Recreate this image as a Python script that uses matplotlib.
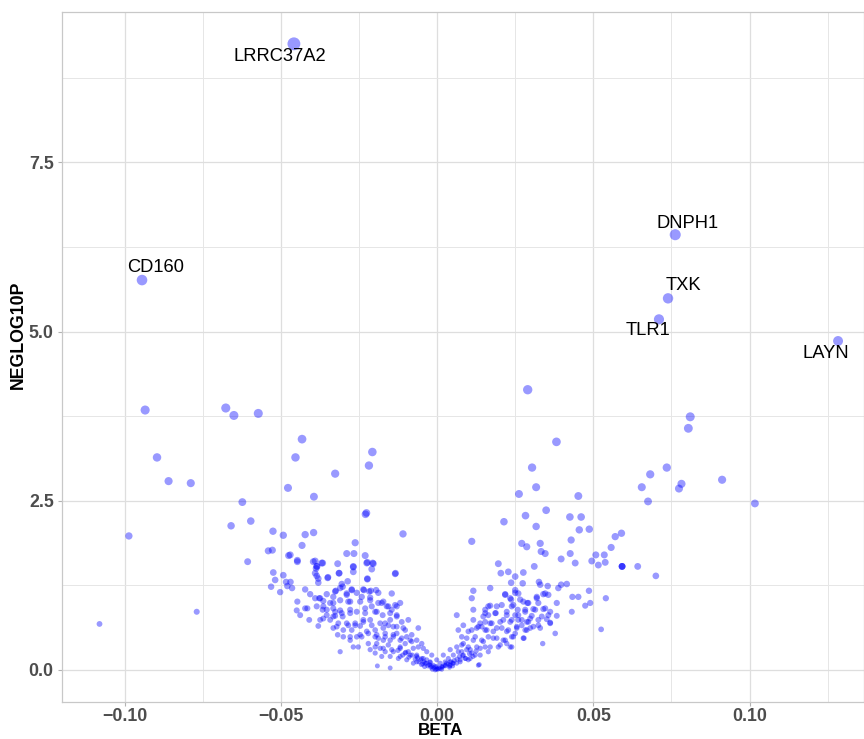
import numpy as np
import matplotlib
matplotlib.use("Agg")
import matplotlib.pyplot as plt
from matplotlib.ticker import MultipleLocator

# labelled genes
genes = ["LRRC37A2", "CD160", "DNPH1", "TXK", "TLR1", "LAYN"]
gene_beta = [-0.0458, -0.0944, 0.0762, 0.0739, 0.0710, 0.1283]
gene_p = [9.25, 5.76, 6.43, 5.49, 5.18, 4.86]
# label offsets (points) as ggrepel placed them
gene_dx = [-10, 10, 9, 11, -8, -9]
gene_dy = [-9, 9, 8, 9, -8, -9]

# sparse points, left arm
left_beta = [-0.0934, -0.0676, -0.0650, -0.0572, -0.0896, -0.0859, -0.0788,
             -0.0623, -0.0596, -0.0659, -0.0986, -0.0606, -0.1080, -0.0769,
             -0.0432, -0.0453, -0.0207, -0.0218, -0.0326, -0.0477, -0.0394,
             -0.0229, -0.0226, -0.0525, -0.0492, -0.0422, -0.0395, -0.0109,
             -0.0540, -0.0527, -0.0475, -0.0384]
left_p = [3.84, 3.87, 3.76, 3.79, 3.14, 2.79, 2.76,
          2.48, 2.20, 2.13, 1.98, 1.60, 0.68, 0.86,
          3.41, 3.14, 3.22, 3.02, 2.90, 2.69, 2.56,
          2.30, 2.32, 2.05, 1.99, 2.00, 2.03, 2.01,
          1.76, 1.77, 1.69, 1.53]

# sparse points, right arm
right_beta = [0.0290, 0.0382, 0.0304, 0.0317, 0.0262, 0.0452, 0.0349, 0.0283,
              0.0425, 0.0461, 0.0214, 0.0317, 0.0487, 0.0590, 0.0592, 0.0592,
              0.0592, 0.0810, 0.0804, 0.0735, 0.0682, 0.0655, 0.0782, 0.0774,
              0.0912, 0.0675, 0.1017, 0.0642, 0.0700]
right_p = [4.14, 3.37, 2.99, 2.70, 2.60, 2.57, 2.36, 2.28,
           2.26, 2.26, 2.19, 2.12, 2.08, 2.02, 1.53, 1.53,
           1.53, 3.74, 3.57, 2.99, 2.89, 2.70, 2.75, 2.68,
           2.81, 2.49, 2.46, 1.53, 1.39]

# dense cloud, negative beta
cloud_neg_beta = [
    -0.0432, -0.0262, -0.0470, -0.0447, -0.0390, -0.0366, -0.0289, -0.0266,
    -0.0230, -0.0223, -0.0206, -0.0318, -0.0268, -0.0387, -0.0209, -0.0268,
    -0.0313, -0.0133, -0.0385, -0.0349, -0.0223, -0.0469, -0.0380, -0.0286,
    -0.0305, -0.0464, -0.0422, -0.0406, -0.0353, -0.0324, -0.0302, -0.0273,
    -0.0257, -0.0234, -0.0217, -0.0195, -0.0188, -0.0145, -0.0377, -0.0364,
    -0.0332, -0.0289, -0.0284, -0.0214, -0.0246, -0.0447, -0.0422, -0.0449,
    -0.0438, -0.0409, -0.0380, -0.0366, -0.0353, -0.0332, -0.0310, -0.0302,
    -0.0326, -0.0342, -0.0364, -0.0278, -0.0257, -0.0230, -0.0209, -0.0193,
    -0.0177, -0.0161, -0.0145, -0.0129, -0.0118, -0.0129, -0.0092, -0.0060,
    -0.0332, -0.0318, -0.0300, -0.0278, -0.0268, -0.0310, -0.0284, -0.0262,
    -0.0246, -0.0236, -0.0214, -0.0225, -0.0241, -0.0220, -0.0198, -0.0188,
    -0.0172, -0.0166, -0.0150, -0.0140, -0.0129, -0.0108, -0.0097, -0.0113,
    -0.0182, -0.0156, -0.0150, -0.0140, -0.0118, -0.0102, -0.0081, -0.0076,
    -0.0060, -0.0044, -0.0086, -0.0065, -0.0049, -0.0033, -0.0022, -0.0012,
    -0.0001, -0.0191, -0.0150, -0.0124, -0.0102, -0.0198, -0.0172,
    -0.0524, -0.0518, -0.0531, -0.0492, -0.0483, -0.0479, -0.0502,
    -0.0003, -0.0010, -0.0016, -0.0026, -0.0035, -0.0042, -0.0052, -0.0062,
    -0.0070, -0.0080, -0.0006, -0.0020, -0.0030, -0.0046, -0.0058, -0.0090,
    -0.0100, -0.0110, -0.0125,
    -0.0447, -0.0396, -0.0385, -0.0369, -0.0390, -0.0380, -0.0350, -0.0314,
    -0.0268, -0.0225, -0.0204, -0.0223, -0.0134, -0.0374, -0.0326, -0.0310,
    -0.0289, -0.0273, -0.0236, -0.0212, -0.0415, -0.0385, -0.0353, -0.0332,
    -0.0310, -0.0278, -0.0241, -0.0214, -0.0188, -0.0172, -0.0156, -0.0134,
    -0.0332, -0.0305, -0.0278, -0.0230, -0.0198, -0.0174, -0.0150, -0.0129,
    -0.0321, -0.0289, -0.0262, -0.0236, -0.0209, -0.0182, -0.0156, -0.0129,
    -0.0102, -0.0278, -0.0246, -0.0220, -0.0193, -0.0166, -0.0140, -0.0113,
    -0.0086, -0.0198, -0.0172, -0.0145, -0.0118, -0.0092, -0.0065, -0.0044,
    -0.0022, -0.0006, -0.0150, -0.0177, -0.0097, -0.0076,
    -0.0390, -0.0364, -0.0342, -0.0326, -0.0374, -0.0316, -0.0300, -0.0273,
    -0.0257, -0.0252, -0.0214, -0.0193, -0.0166, -0.0118, -0.0065, -0.0038,
    -0.0022, -0.0198, -0.0166, -0.0140, -0.0118, -0.0081, -0.0065, -0.0049,
    -0.0033, -0.0017, -0.0001, -0.0040, -0.0050, -0.0015]
cloud_neg_p = [
    1.84, 1.88, 1.70, 1.62, 1.61, 1.58, 1.72, 1.72,
    1.69, 1.59, 1.58, 1.57, 1.53, 1.50, 1.49, 1.45,
    1.43, 1.43, 1.39, 1.37, 1.34, 1.30, 1.29, 1.31,
    1.27, 1.21, 1.19, 1.12, 1.12, 1.17, 1.23, 1.18,
    1.14, 1.18, 1.16, 1.18, 1.14, 1.13, 1.06, 1.02,
    1.08, 1.11, 1.01, 1.07, 1.01, 1.01, 0.91, 0.88,
    0.81, 0.74, 0.65, 0.89, 0.81, 0.91, 0.88, 0.79,
    0.80, 0.74, 0.76, 0.89, 0.86, 0.91, 0.94, 0.86,
    0.99, 0.94, 0.89, 0.94, 0.99, 0.81, 0.74, 0.62,
    0.62, 0.52, 0.59, 0.44, 0.34, 0.27, 0.66, 0.69,
    0.65, 0.74, 0.74, 0.57, 0.49, 0.39, 0.59, 0.47,
    0.62, 0.69, 0.74, 0.64, 0.54, 0.62, 0.49, 0.71,
    0.32, 0.37, 0.44, 0.27, 0.34, 0.39, 0.42, 0.32,
    0.34, 0.32, 0.22, 0.20, 0.17, 0.15, 0.11, 0.07,
    0.05, 0.06, 0.03, 0.17, 0.25, 0.25, 0.44,
    1.44, 1.33, 1.23, 1.40, 1.30, 1.24, 1.15,
    0.01, 0.03, 0.05, 0.08, 0.10, 0.12, 0.15, 0.18,
    0.16, 0.22, 0.00, 0.04, 0.06, 0.09, 0.12, 0.19,
    0.26, 0.22, 0.29,
    1.60, 1.60, 1.53, 1.58, 1.43, 1.35, 1.36, 1.43,
    1.52, 1.58, 1.57, 1.35, 1.42, 1.06, 1.16, 1.21,
    1.13, 1.19, 1.19, 1.17, 0.91, 0.94, 0.89, 0.99,
    1.03, 1.01, 1.08, 1.03, 0.99, 1.01, 0.94, 0.96,
    0.79, 0.84, 0.84, 0.84, 0.86, 0.81, 0.84, 0.79,
    0.64, 0.69, 0.66, 0.71, 0.66, 0.69, 0.66, 0.64,
    0.59, 0.49, 0.52, 0.54, 0.52, 0.49, 0.52, 0.47,
    0.44, 0.34, 0.32, 0.30, 0.32, 0.27, 0.22, 0.17,
    0.12, 0.05, 0.20, 0.20, 0.15, 0.10,
    1.06, 0.94, 0.99, 0.86, 0.74, 0.69, 0.49, 0.59,
    0.49, 0.34, 0.30, 0.39, 0.27, 0.20, 0.12, 0.10,
    0.07, 0.49, 0.54, 0.49, 0.44, 0.52, 0.44, 0.39,
    0.27, 0.22, 0.15, 0.05, 0.08, 0.01]

# dense cloud, positive beta
cloud_pos_beta = [
    0.0111, 0.0196, 0.0204, 0.0228, 0.0250, 0.0276, 0.0237, 0.0274,
    0.0271, 0.0287, 0.0116, 0.0170, 0.0250, 0.0111, 0.0218, 0.0237,
    0.0266, 0.0244, 0.0164, 0.0207, 0.0116, 0.0282, 0.0063, 0.0148,
    0.0186, 0.0164, 0.0223, 0.0260, 0.0116, 0.0154, 0.0175, 0.0202,
    0.0239, 0.0271, 0.0287, 0.0132, 0.0111, 0.0154, 0.0180, 0.0207,
    0.0228, 0.0255, 0.0239, 0.0276, 0.0079, 0.0095, 0.0122, 0.0143,
    0.0164, 0.0191, 0.0218, 0.0239, 0.0196, 0.0164, 0.0127, 0.0100,
    0.0079, 0.0068, 0.0052, 0.0036, 0.0026, 0.0084, 0.0111, 0.0138,
    0.0100, 0.0074, 0.0052, 0.0132, 0.0015,
    0.0330, 0.0333, 0.0346, 0.0429, 0.0455, 0.0557, 0.0570, 0.0426,
    0.0397, 0.0442, 0.0311, 0.0495, 0.0508, 0.0535, 0.0516, 0.0538,
    0.0326, 0.0330, 0.0354, 0.0388, 0.0397, 0.0415, 0.0340, 0.0356,
    0.0433, 0.0452, 0.0486, 0.0490, 0.0474, 0.0540, 0.0319, 0.0292,
    0.0324, 0.0383, 0.0314, 0.0346, 0.0362, 0.0431, 0.0303, 0.0335,
    0.0383, 0.0351, 0.0292, 0.0324, 0.0362, 0.0298, 0.0330, 0.0525,
    0.0378, 0.0338, 0.0135,
    0.0003, 0.0010, 0.0016, 0.0026, 0.0035, 0.0045, 0.0055, 0.0064,
    0.0072, 0.0082, 0.0006, 0.0020, 0.0030, 0.0040, 0.0050, 0.0092,
    0.0104, 0.0115, 0.0125,
    0.0218, 0.0250, 0.0234, 0.0319, 0.0346, 0.0289, 0.0170, 0.0239,
    0.0258, 0.0154, 0.0188, 0.0223, 0.0250, 0.0282, 0.0308, 0.0340,
    0.0356, 0.0298, 0.0324, 0.0362, 0.0260, 0.0234, 0.0170, 0.0138,
    0.0084, 0.0068, 0.0100, 0.0127, 0.0159, 0.0191, 0.0223, 0.0255,
    0.0287, 0.0308, 0.0278, 0.0244, 0.0212, 0.0180, 0.0148, 0.0116,
    0.0084, 0.0063, 0.0042, 0.0020, 0.0079, 0.0106, 0.0138, 0.0170,
    0.0202, 0.0234, 0.0074, 0.0042, 0.0010, 0.0106,
    0.0154, 0.0191, 0.0143, 0.0212, 0.0250, 0.0223, 0.0154, 0.0122,
    0.0090, 0.0063, 0.0042, 0.0026, 0.0095, 0.0271, 0.0282, 0.0276,
    0.0260, 0.0040, 0.0050, 0.0015, 0.0000]
cloud_pos_p = [
    1.90, 1.57, 1.43, 1.45, 1.38, 1.44, 1.29, 1.28,
    1.87, 1.82, 1.17, 1.21, 1.18, 1.06, 1.11, 1.04,
    1.04, 0.96, 0.94, 0.96, 0.89, 0.89, 0.81, 0.79,
    0.84, 0.81, 0.81, 0.81, 0.74, 0.71, 0.69, 0.71,
    0.74, 0.66, 0.71, 0.64, 0.59, 0.59, 0.57, 0.62,
    0.59, 0.62, 0.49, 0.47, 0.49, 0.47, 0.49, 0.44,
    0.49, 0.47, 0.44, 0.34, 0.34, 0.27, 0.34, 0.34,
    0.37, 0.27, 0.22, 0.17, 0.12, 0.22, 0.25, 0.22,
    0.15, 0.12, 0.10, 0.07, 0.05,
    1.87, 1.75, 1.72, 1.92, 2.07, 1.81, 1.97, 1.72,
    1.64, 1.58, 1.53, 1.61, 1.70, 1.70, 1.55, 1.59,
    1.30, 1.26, 1.24, 1.21, 1.26, 1.27, 1.12, 1.11,
    1.08, 1.08, 1.17, 0.99, 0.95, 1.06, 1.06, 0.99,
    0.99, 0.99, 0.89, 0.91, 0.86, 0.86, 0.80, 0.79,
    0.80, 0.75, 0.71, 0.66, 0.69, 0.62, 0.62, 0.60,
    0.54, 0.39, 0.08,
    0.01, 0.02, 0.04, 0.07, 0.09, 0.12, 0.14, 0.16,
    0.20, 0.21, 0.03, 0.06, 0.10, 0.06, 0.10, 0.17,
    0.24, 0.20, 0.28,
    1.12, 1.14, 1.06, 1.08, 1.13, 0.99, 0.95, 0.94,
    0.89, 0.84, 0.84, 0.86, 0.81, 0.86, 0.90, 0.90,
    0.81, 0.76, 0.74, 0.70, 0.74, 0.71, 0.69, 0.69,
    0.66, 0.59, 0.57, 0.62, 0.59, 0.62, 0.57, 0.64,
    0.59, 0.64, 0.47, 0.49, 0.44, 0.47, 0.42, 0.44,
    0.39, 0.34, 0.30, 0.22, 0.27, 0.30, 0.32, 0.34,
    0.37, 0.34, 0.15, 0.12, 0.10, 0.17,
    0.89, 0.94, 0.64, 0.74, 0.54, 0.39, 0.34, 0.22,
    0.17, 0.10, 0.07, 0.06, 0.30, 0.74, 0.59, 1.01,
    1.13, 0.04, 0.06, 0.01, 0.02]


def point_size(p):
    # area grows with -log10(p), like ggplot's scale_size
    return 12 + 8 * np.asarray(p)


def main():
    beta = np.concatenate([cloud_neg_beta, cloud_pos_beta, left_beta, right_beta, gene_beta])
    nlp = np.concatenate([cloud_neg_p, cloud_pos_p, left_p, right_p, gene_p])

    fig = plt.figure(figsize=(8.64, 7.39), dpi=100)
    ax = fig.add_axes([62 / 864, 37 / 739, 1 - 62 / 864, 690 / 739])

    ax.scatter(beta, nlp, s=point_size(nlp), c="#0000FF", alpha=0.4,
               linewidths=0, zorder=3)

    for g, b, p, dx, dy in zip(genes, gene_beta, gene_p, gene_dx, gene_dy):
        ax.annotate(g, (b, p), xytext=(dx, dy), textcoords="offset points",
                    ha="center", va="center", fontsize=13.2,
                    family="Liberation Sans", color="black", zorder=4)

    ax.set_xlim(-0.12, 0.1366)
    ax.set_ylim(-0.473, 9.72)
    ax.xaxis.set_minor_locator(MultipleLocator(0.025))
    ax.yaxis.set_minor_locator(MultipleLocator(1.25))
    ax.set_xticks([-0.10, -0.05, 0.00, 0.05, 0.10])
    ax.set_xticklabels(["\u22120.10", "\u22120.05", "0.00", "0.05", "0.10"])
    ax.set_yticks([0.0, 2.5, 5.0, 7.5])
    ax.set_yticklabels(["0.0", "2.5", "5.0", "7.5"])

    ax.grid(which="major", color="#DEDEDE", linewidth=0.9)
    ax.grid(which="minor", color="#E6E6E6", linewidth=0.7)
    ax.set_axisbelow(True)
    for s in ax.spines.values():
        s.set_color("#C8C8C8")
        s.set_linewidth(0.9)

    ax.tick_params(which="major", length=3, color="#B3B3B3", width=0.8, pad=3,
                   labelsize=12.8, labelcolor="#4D4D4D")
    ax.tick_params(axis="x", which="major", pad=1.5)
    ax.tick_params(which="minor", length=0)
    for lab in ax.get_xticklabels() + ax.get_yticklabels():
        lab.set_fontweight("bold")
        lab.set_family("Liberation Sans")

    ax.set_xlabel("BETA", fontsize=12.3, fontweight="bold", family="Liberation Sans",
                  va="center")
    ax.set_ylabel("NEGLOG10P", fontsize=12.8, fontweight="bold", family="Liberation Sans",
                  va="center")
    ax.xaxis.set_label_coords(0.4726, -0.0413)
    ax.yaxis.set_label_coords(-0.0549, 0.532)

    fig.savefig("out.png", dpi=100)


if __name__ == "__main__":
    main()
